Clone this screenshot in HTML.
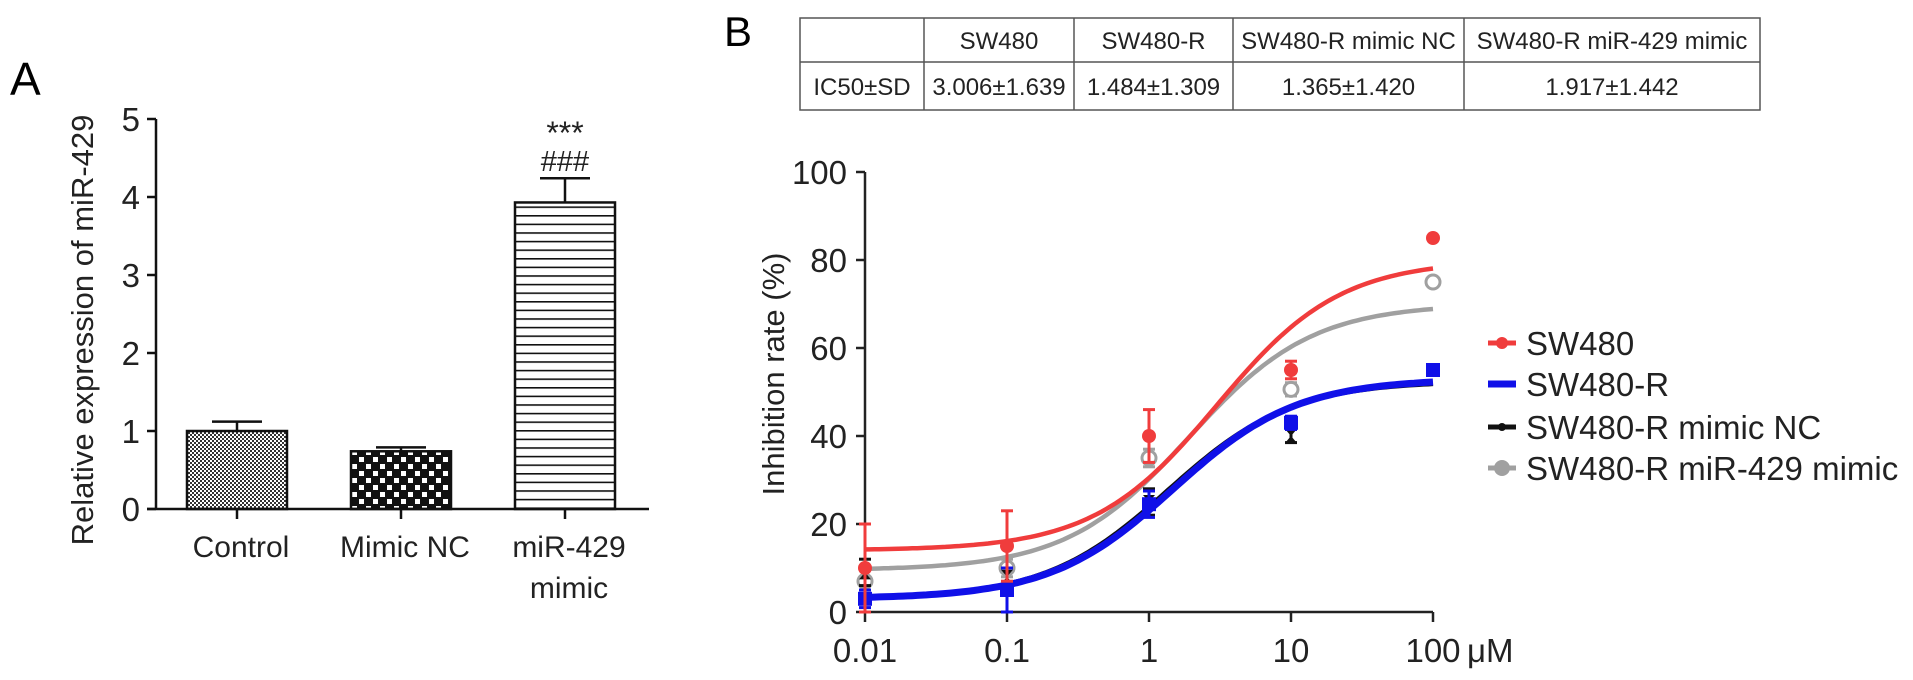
<!DOCTYPE html>
<html><head><meta charset="utf-8"><style>
html,body{margin:0;padding:0;background:#fff;}
svg{display:block;font-family:"Liberation Sans",Arial,sans-serif;}
</style></head><body>
<svg width="1913" height="680" viewBox="0 0 1913 680">
<defs>
<pattern id="pCtrl" width="4" height="4" patternUnits="userSpaceOnUse"><rect width="4" height="4" fill="#fff"/><rect width="2" height="2" fill="#333"/><rect x="2" y="2" width="2" height="2" fill="#333"/></pattern>
<pattern id="pNC" width="14" height="14" patternUnits="userSpaceOnUse"><rect width="14" height="14" fill="#111"/><rect x="2" y="2" width="5" height="5" fill="#fff"/><rect x="9" y="9" width="5" height="5" fill="#fff"/></pattern>
<pattern id="pMiR" width="10" height="8.6" patternUnits="userSpaceOnUse"><rect width="10" height="8.6" fill="#fff"/><rect y="0" width="10" height="1.6" fill="#111"/></pattern>
</defs>
<g id="panelA"></g>
<g id="panelB"></g>
</svg>
<script>
// Panel A data
const barCategories = ["Control", "Mimic NC", "miR-429 mimic"];
const barValues = [1.0, 0.74, 3.93];
const barErrors = [0.12, 0.05, 0.31];
const barTicks = [0, 1, 2, 3, 4, 5];

// Panel B data
const doses = [0.01, 0.1, 1, 10, 100];
const doseTickLabels = ["0.01", "0.1", "1", "10", "100"];
const yTicksB = [0, 20, 40, 60, 80, 100];
const seriesNames = ["SW480", "SW480-R", "SW480-R mimic NC", "SW480-R miR-429 mimic"];
const sw480Vals = [10, 15, 40, 55, 85];
const sw480Err = [10, 8, 6, 2, 0];
const sw480RVals = [3, 5, 24.5, 43, 55];
const sw480RErr = [2, 5, 3, 1.5, 0];
const ncVals = [9, 8, 25, 40, 55];
const ncErr = [3, 2, 3, 1.5, 0];
const miVals = [7, 10, 35, 50.6, 75];
const miErr = [3, 2, 2, 1.5, 0];
const fitBottom = [14, 3, 3, 9.5];
const fitTop = [80, 53, 52.5, 70];
const fitIC50 = [3.006, 1.484, 1.365, 1.917];
const tableHeaders = ["", "SW480", "SW480-R", "SW480-R mimic NC", "SW480-R miR-429 mimic"];
const tableRow = ["IC50±SD", "3.006±1.639", "1.484±1.309", "1.365±1.420", "1.917±1.442"];

const NS = "http://www.w3.org/2000/svg";
function mk(parent, tag, attrs, text) {
  const e = document.createElementNS(NS, tag);
  for (const k in attrs) e.setAttribute(k, attrs[k]);
  if (text !== undefined) e.textContent = text;
  parent.appendChild(e);
  return e;
}

// ---------- Panel A ----------
const A = document.getElementById('panelA');
const ax0 = 156, ay0 = 509, aUnit = 78;
const yA = v => ay0 - v * aUnit;
const barCenters = [237, 401, 565], barW = 100;
const patterns = ["url(#pCtrl)", "url(#pNC)", "url(#pMiR)"];
let t = mk(A, 'text', {x: 10, y: 95, 'font-size': 46}, 'A');


let l = mk(A, 'line', {x1: ax0, y1: yA(5), x2: ax0, y2: ay0, stroke: '#111', 'stroke-width': 2.5});


barTicks.forEach(v => {
  mk(A, 'line', {x1: ax0 - 9, y1: yA(v), x2: ax0, y2: yA(v), stroke: '#111', 'stroke-width': 2.5});
  const tl = mk(A, 'text', {x: ax0 - 16, y: yA(v) + 12, 'font-size': 33, 'text-anchor': 'end', fill: '#222'}, String(v));
  
  
});
t = mk(A, 'text', {x: 0, y: 0, 'font-size': 31, 'text-anchor': 'middle', fill: '#222', transform: 'translate(93,330) rotate(-90)'}, 'Relative expression of miR-429');


barValues.forEach((v, i) => {
  const cx = barCenters[i];
  const b = mk(A, 'rect', {x: cx - barW / 2, y: yA(v), width: barW, height: ay0 - yA(v), fill: patterns[i], stroke: '#111', 'stroke-width': 2.5});
  
  
  const ye = yA(v + barErrors[i]);
  mk(A, 'line', {x1: cx, y1: yA(v), x2: cx, y2: ye, stroke: '#111', 'stroke-width': 2.5});
  mk(A, 'line', {x1: cx - 25, y1: ye, x2: cx + 25, y2: ye, stroke: '#111', 'stroke-width': 2.5});
  mk(A, 'line', {x1: cx, y1: ay0, x2: cx, y2: ay0 + 10, stroke: '#111', 'stroke-width': 2.5});
});
l = mk(A, 'line', {x1: ax0 - 9, y1: ay0, x2: 649, y2: ay0, stroke: '#111', 'stroke-width': 2.5});


const catLines = [["Control"], ["Mimic NC"], ["miR-429", "mimic"]];
catLines.forEach((ls, i) => {
  ls.forEach((s, j) => {
    const c = mk(A, 'text', {x: barCenters[i] + 4, y: 557 + j * 41, 'font-size': 30, 'text-anchor': 'middle', fill: '#222'}, s);
    
    
  });
});
t = mk(A, 'text', {x: barCenters[2], y: 144, 'font-size': 32, 'text-anchor': 'middle', fill: '#222'}, '***');


t = mk(A, 'text', {x: barCenters[2], y: 171, 'font-size': 29, 'text-anchor': 'middle', fill: '#222'}, '###');



// ---------- Panel B ----------
const B = document.getElementById('panelB');
t = mk(B, 'text', {x: 724, y: 46, 'font-size': 42}, 'B');


const colX = [800, 924, 1074, 1233, 1464, 1760];
const tTop = 18, tMid = 62, tBot = 110;
const tbl = mk(B, 'g', {});


mk(tbl, 'rect', {x: colX[0], y: tTop, width: colX[5] - colX[0], height: tBot - tTop, fill: 'none', stroke: '#555', 'stroke-width': 1.5});
mk(tbl, 'line', {x1: colX[0], y1: tMid, x2: colX[5], y2: tMid, stroke: '#555', 'stroke-width': 1.5});
colX.slice(1, 5).forEach(x => mk(tbl, 'line', {x1: x, y1: tTop, x2: x, y2: tBot, stroke: '#555', 'stroke-width': 1.5}));
tableHeaders.forEach((h, i) => {
  const c = mk(tbl, 'text', {x: (colX[i] + colX[i + 1]) / 2, y: 49, 'font-size': 24, 'text-anchor': 'middle', fill: '#222'}, h);
  
  
});
tableRow.forEach((h, i) => {
  const c = mk(tbl, 'text', {x: (colX[i] + colX[i + 1]) / 2, y: 95, 'font-size': 24, 'text-anchor': 'middle', fill: '#222'}, h);
  
  
});

const bx0 = 865, by0 = 612, bUnit = 4.4, decade = 142;
const xB = d => bx0 + (Math.log10(d) + 2) * decade;
const yB = v => by0 - v * bUnit;
l = mk(B, 'line', {x1: bx0, y1: yB(100), x2: bx0, y2: by0, stroke: '#222', 'stroke-width': 2.5});


yTicksB.forEach(v => {
  mk(B, 'line', {x1: bx0 - 9, y1: yB(v), x2: bx0, y2: yB(v), stroke: '#222', 'stroke-width': 2.5});
  const tl = mk(B, 'text', {x: bx0 - 18, y: yB(v) + 12, 'font-size': 33, 'text-anchor': 'end', fill: '#222'}, String(v));
  
  
});
t = mk(B, 'text', {x: 0, y: 0, 'font-size': 31, 'text-anchor': 'middle', fill: '#222', transform: 'translate(784,374) rotate(-90)'}, 'Inhibition rate (%)');


const axY = 612;
l = mk(B, 'line', {x1: xB(doses[0]), y1: axY, x2: xB(doses[4]), y2: axY, stroke: '#222', 'stroke-width': 2.5});


doses.forEach((d, i) => {
  mk(B, 'line', {x1: xB(d), y1: axY, x2: xB(d), y2: axY + 10, stroke: '#222', 'stroke-width': 2.5});
  const tl = mk(B, 'text', {x: xB(d), y: 662, 'font-size': 33, 'text-anchor': 'middle', fill: '#222'}, doseTickLabels[i]);
  
  
});
t = mk(B, 'text', {x: xB(100) + 34, y: 662, 'font-size': 33, fill: '#222'}, 'μM');



const colors = ['#f03c3c', '#1010e8', '#111111', '#a0a0a0'];
const widths = [4.5, 7, 4.5, 4.5];
const vals = [sw480Vals, sw480RVals, ncVals, miVals];
const errs = [sw480Err, sw480RErr, ncErr, miErr];
const drawOrder = [3, 2, 1, 0];
drawOrder.forEach(s => {
  let d = '';
  for (let k = 0; k <= 120; k++) {
    const lg = -2 + 4 * k / 120;
    const conc = Math.pow(10, lg);
    const v = fitBottom[s] + (fitTop[s] - fitBottom[s]) / (1 + fitIC50[s] / conc);
    d += (k ? 'L' : 'M') + xB(conc).toFixed(1) + ',' + yB(v).toFixed(1);
  }
  const p = mk(B, 'path', {d: d, fill: 'none', stroke: colors[s], 'stroke-width': widths[s]});
  
  
  doses.forEach((dd, i) => {
    const x = xB(dd), v = vals[s][i];
    if (errs[s][i] > 0) {
      mk(B, 'line', {x1: x, y1: yB(v - errs[s][i]), x2: x, y2: yB(v + errs[s][i]), stroke: colors[s], 'stroke-width': 3});
      mk(B, 'line', {x1: x - 6, y1: yB(v + errs[s][i]), x2: x + 6, y2: yB(v + errs[s][i]), stroke: colors[s], 'stroke-width': 3});
      mk(B, 'line', {x1: x - 6, y1: yB(v - errs[s][i]), x2: x + 6, y2: yB(v - errs[s][i]), stroke: colors[s], 'stroke-width': 3});
    }
    let m;
    if (s === 1) m = mk(B, 'rect', {x: x - 7, y: yB(v) - 7, width: 14, height: 14, fill: colors[s]});
    else if (s === 3) m = mk(B, 'circle', {cx: x, cy: yB(v), r: 7, fill: '#fff', stroke: colors[s], 'stroke-width': 3});
    else if (s === 2) m = mk(B, 'path', {d: `M${x - 6},${yB(v) - 7}L${x + 6},${yB(v) - 7}L${x},${yB(v)}L${x + 6},${yB(v) + 7}L${x - 6},${yB(v) + 7}L${x},${yB(v)}Z`, fill: colors[s]});
    else m = mk(B, 'circle', {cx: x, cy: yB(v), r: 7, fill: colors[s]});
    
    
  });
});

const legY = [343, 384, 427, 468];
seriesNames.forEach((n, s) => {
  const g = mk(B, 'g', {});
  
  
  mk(g, 'line', {x1: 1488, y1: legY[s], x2: 1516, y2: legY[s], stroke: colors[s], 'stroke-width': s === 1 ? 7 : 5});
  if (s === 0) mk(g, 'circle', {cx: 1502, cy: legY[s], r: 6, fill: colors[s]});
  if (s === 2) mk(g, 'circle', {cx: 1502, cy: legY[s], r: 4, fill: colors[s]});
  if (s === 3) mk(g, 'circle', {cx: 1502, cy: legY[s], r: 8, fill: colors[s]});
  mk(g, 'text', {x: 1526, y: legY[s] + 12, 'font-size': 33, fill: '#222'}, n);
});
</script>
</body></html>
